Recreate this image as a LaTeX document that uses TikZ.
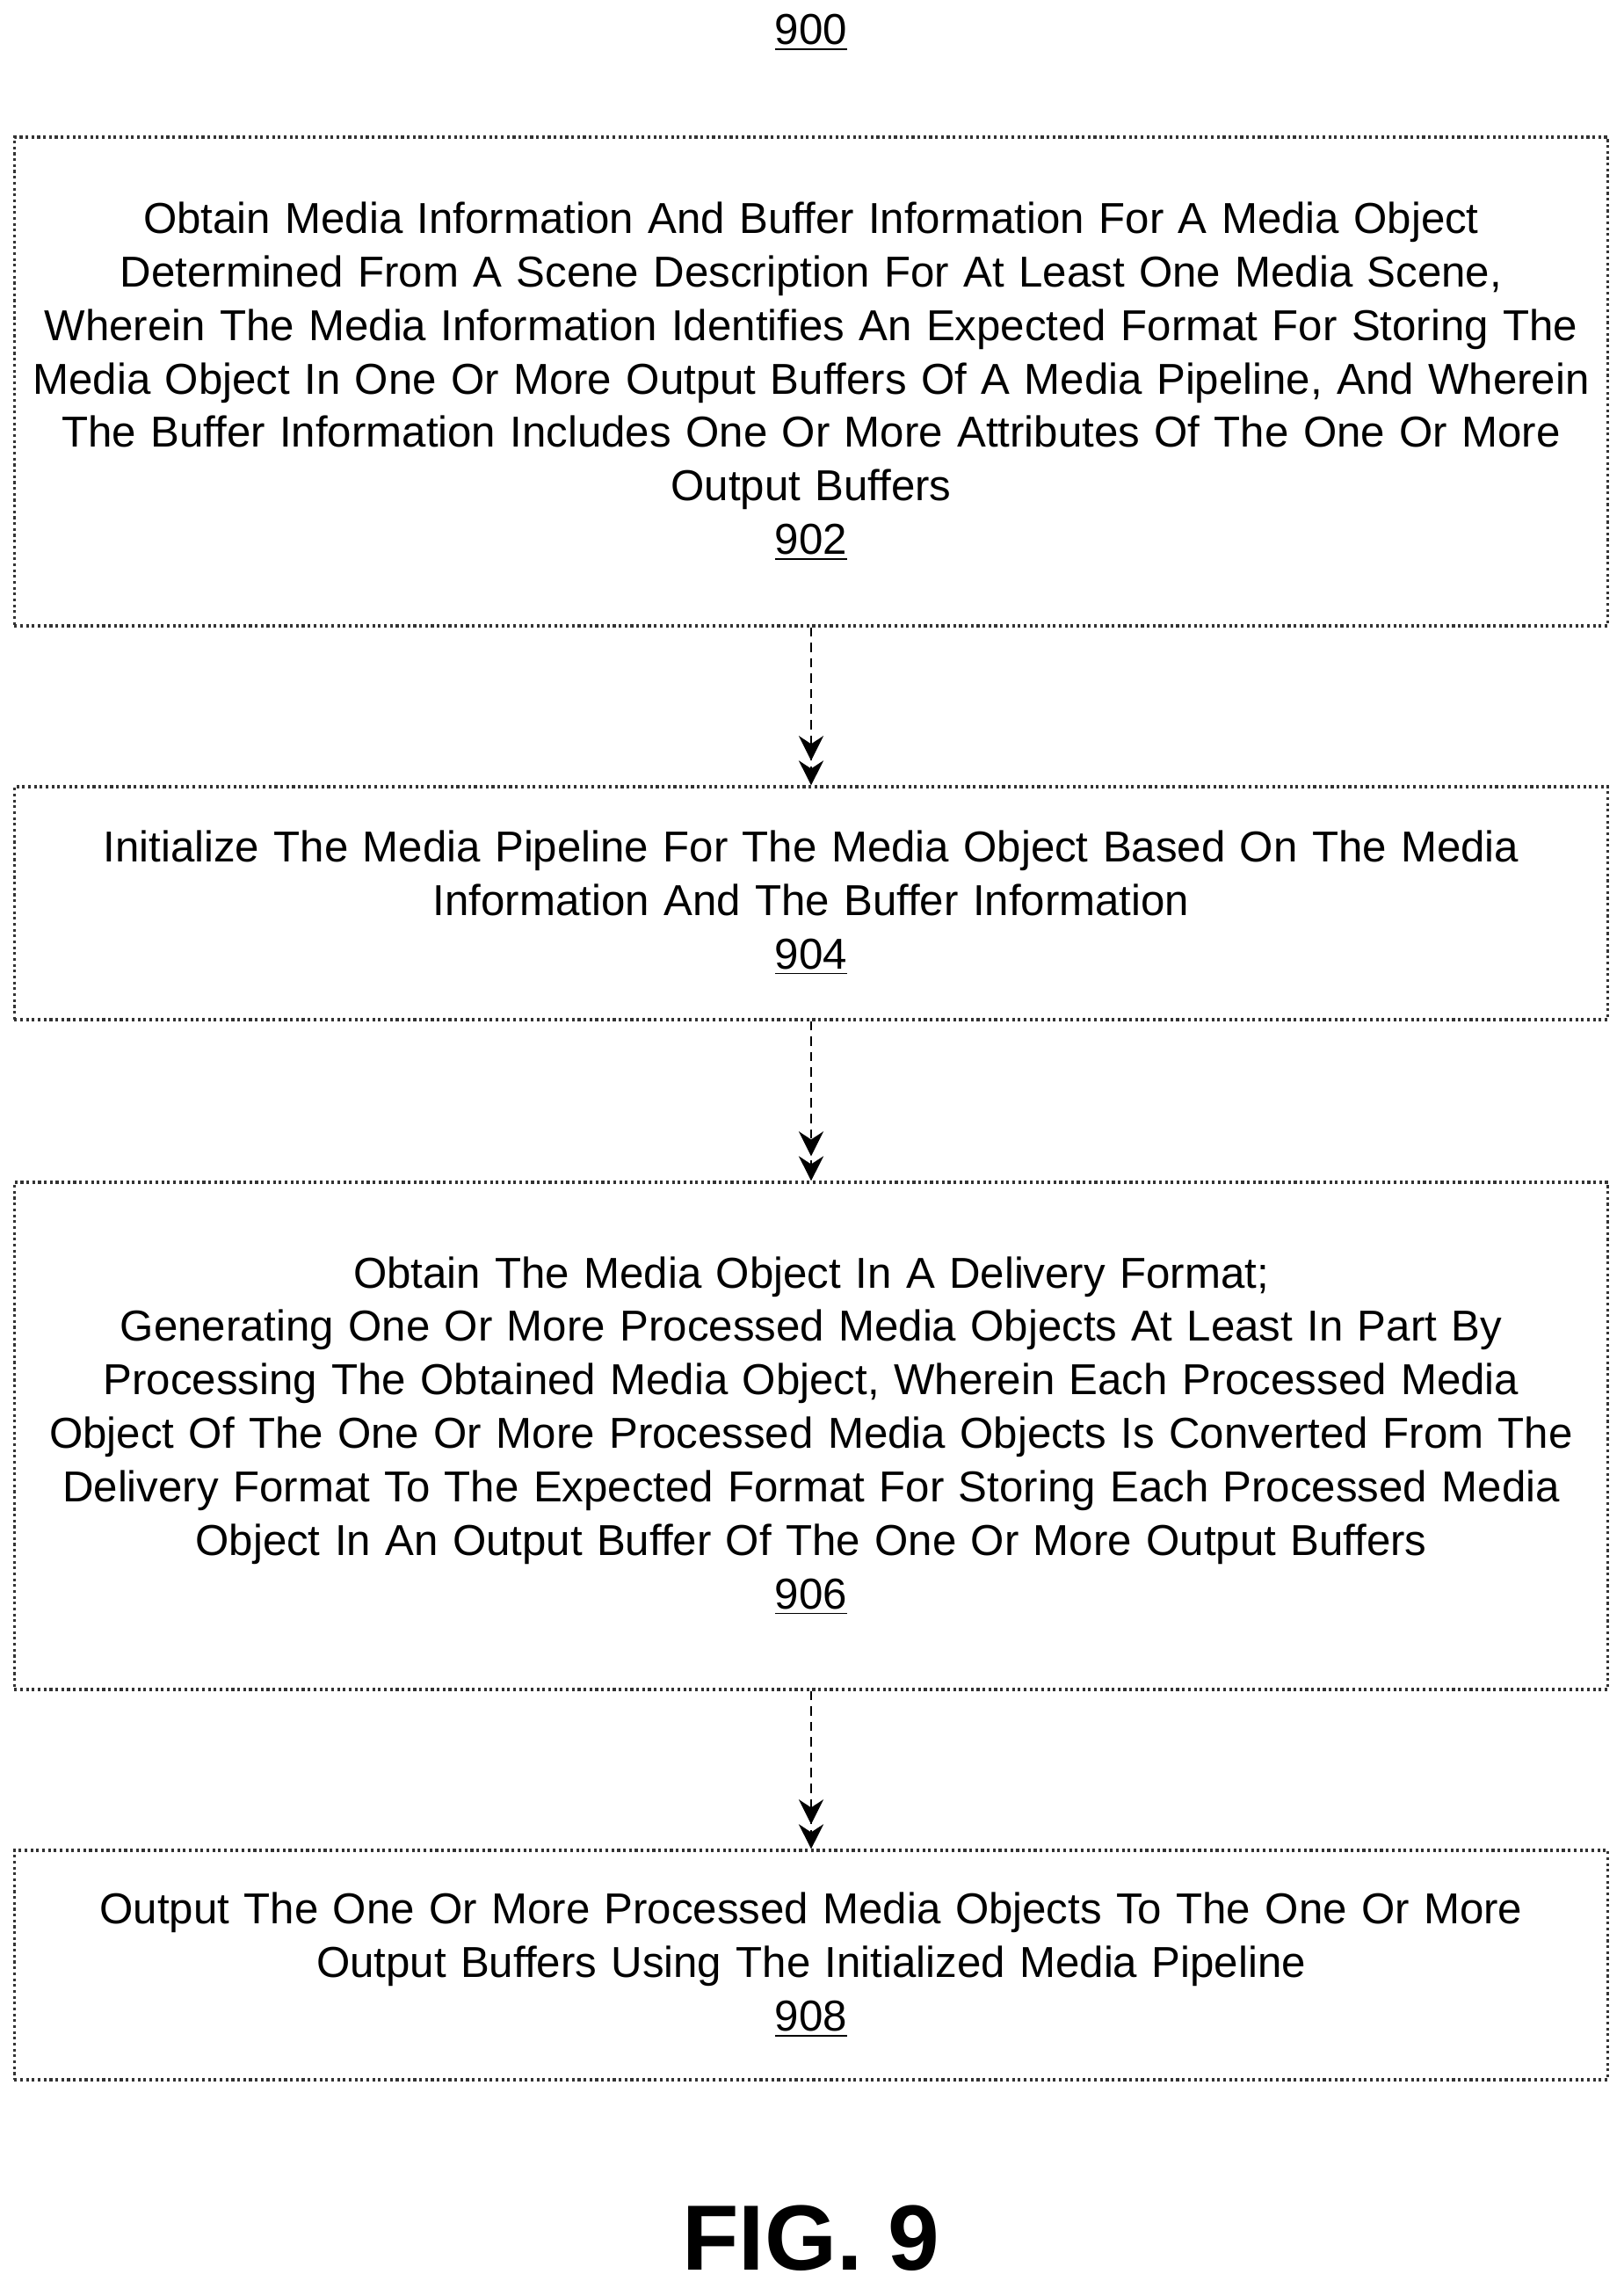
\documentclass[tikz,border=0pt]{standalone}
\usepackage{fontspec}
\setmainfont{Liberation Sans}
\usetikzlibrary{arrows.meta}
\tikzset{
  stepbox/.style={draw=black!80, densely dotted, line width=0.9pt, minimum width=18.02cm,
    text width=17.9cm, align=center, font=\fontsize{14pt}{17.3pt}\selectfont},
  flow/.style={densely dashed, line width=0.8pt, -{Stealth[length=8pt,width=8pt]Stealth[length=8pt,width=8pt]}}
}
\begin{document}
\begin{tikzpicture}
  \useasboundingbox (0,0) rectangle (18.47,-26.12);
  \node[font=\fontsize{14pt}{17pt}\selectfont] (title) at (9.23,-0.37) {\underline{900}};

  \node[stepbox, minimum height=5.56cm] (s902) at (9.23,-4.34) {Obtain Media Information And Buffer Information For A Media Object\\Determined From A Scene Description For At Least One Media Scene,\\Wherein The Media Information Identifies An Expected Format For Storing The\\Media Object In One Or More Output Buffers Of A Media Pipeline, And Wherein\\The Buffer Information Includes One Or More Attributes Of The One Or More\\Output Buffers\\\underline{902}};
  \node[stepbox, minimum height=2.65cm] (s904) at (9.23,-10.275) {Initialize The Media Pipeline For The Media Object Based On The Media\\Information And The Buffer Information\\\underline{904}};
  \node[stepbox, minimum height=5.77cm] (s906) at (9.23,-16.335) {Obtain The Media Object In A Delivery Format;\\Generating One Or More Processed Media Objects At Least In Part By\\Processing The Obtained Media Object, Wherein Each Processed Media\\Object Of The One Or More Processed Media Objects Is Converted From The\\Delivery Format To The Expected Format For Storing Each Processed Media\\Object In An Output Buffer Of The One Or More Output Buffers\\\underline{906}};
  \node[stepbox, minimum height=2.61cm] (s908) at (9.23,-22.355) {Output The One Or More Processed Media Objects To The One Or More\\Output Buffers Using The Initialized Media Pipeline\\\underline{908}};

  \node[font=\bfseries\fontsize{30pt}{34pt}\selectfont] (fig) at (9.23,-25.46) {FIG. 9};

  \draw[flow] (s902) -- (s904);
  \draw[flow] (s904) -- (s906);
  \draw[flow] (s906) -- (s908);
\end{tikzpicture}
\end{document}
